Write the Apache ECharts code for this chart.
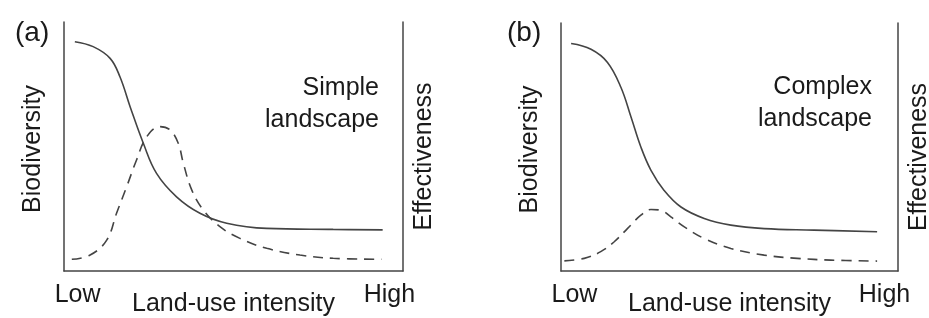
<!DOCTYPE html>
<html>
<head>
<meta charset="utf-8">
<script src="https://cdn.jsdelivr.net/npm/echarts@6/dist/echarts.min.js"></script>
<style>
  html, body { margin: 0; padding: 0; background: #fff; }
  #chart { width: 929px; height: 318px; }
</style>
</head>
<body>
<div id="chart"></div>
<script>
// land-use intensity runs 0 (low) .. 100 (high), both y scales 0..100
const biodivSimple = [
  [3.2, 92.1], [8.6, 90.1], [13.6, 85.4], [16.5, 78.0], [19.5, 66.0], [23.4, 51.3],
  [27.3, 39.2], [33.2, 29.8], [40.1, 23.2], [48.0, 19.2], [59.8, 17.1], [79.4, 16.7], [94.0, 16.5]
]
const effectSimple = [
  [2.3, 4.7], [7.7, 6.4], [12.6, 12.4], [15.5, 23.2], [18.5, 33.9], [21.4, 44.6],
  [24.4, 53.9], [28.3, 58.0], [31.3, 56.6], [33.7, 51.3], [35.2, 43.3], [37.7, 32.5],
  [41.1, 24.5], [46.0, 17.8], [51.9, 13.1], [59.8, 9.1], [69.6, 6.4], [79.4, 5.1], [93.7, 4.7]
]
const biodivComplex = [
  [3.0, 91.7], [8.9, 89.4], [13.8, 84.1], [17.8, 74.0], [20.8, 62.0], [23.7, 50.0],
  [26.7, 40.6], [30.6, 32.5], [35.6, 25.8], [42.5, 21.2], [50.4, 18.5], [60.3, 17.1],
  [75.1, 16.5], [93.8, 15.8]
]
const effectComplex = [
  [1.0, 4.1], [6.9, 5.1], [11.8, 7.8], [15.8, 11.8], [19.7, 17.1], [23.7, 22.5],
  [26.7, 24.8], [29.6, 24.5], [32.6, 21.8], [36.6, 17.8], [42.5, 13.1], [50.4, 9.1],
  [60.3, 6.4], [70.1, 5.1], [80.0, 4.4], [93.8, 4.0]
]
const xEndLabels = ['Low', 'High']
const panelTags = ['(a)', '(b)']
const panelNotes = ['Simple\nlandscape', 'Complex\nlandscape']

const ink = '#444'
const text = '#1a1a1a'
const font = 'Liberation Sans'

const chart = echarts.init(document.getElementById('chart'))

function xAxisFor(i) {
  return {
    type: 'value', gridIndex: i, min: 0, max: 100,
    name: 'Land-use intensity', nameLocation: 'middle', nameGap: 21, nameMoveOverlap: false,
    nameTextStyle: { color: text, fontFamily: font, fontSize: 25 },
    axisLine: { show: true, lineStyle: { color: ink, width: 1.5 } },
    axisTick: { show: false },
    splitLine: { show: false },
    axisLabel: {
      customValues: [4, 96],
      formatter: v => (v < 50 ? xEndLabels[0] : xEndLabels[1]),
      color: text, fontFamily: font, fontSize: 25, margin: 12
    }
  }
}

function yAxisFor(i, side, label) {
  const left = side === 'left'
  return {
    type: 'value', gridIndex: i, min: 0, max: 100, position: side,
    name: label, nameLocation: 'middle', nameRotate: 90, nameGap: left ? 18 : 9,
    nameTextStyle: { color: text, fontFamily: font, fontSize: 25, padding: [0, left ? 5 : 20, 0, 0] },
    axisLine: { show: true, lineStyle: { color: ink, width: 1.5 } },
    axisTick: { show: false },
    axisLabel: { show: false },
    splitLine: { show: false }
  }
}

function curve(data, i, dashed) {
  return {
    type: 'line', xAxisIndex: i, yAxisIndex: i * 2, data: data,
    smooth: 0.4, showSymbol: false, silent: true,
    lineStyle: { color: ink, width: 1.6, type: dashed ? [10, 7] : 'solid' }
  }
}

const option = {
  backgroundColor: '#fff',
  animation: false,
  grid: [
    { left: 64, right: 526, top: 22, bottom: 47, containLabel: false, outerBoundsMode: 'none' },
    { left: 561, right: 31, top: 23, bottom: 47, containLabel: false, outerBoundsMode: 'none' }
  ],
  xAxis: [xAxisFor(0), xAxisFor(1)],
  yAxis: [
    yAxisFor(0, 'left', 'Biodiversity'), yAxisFor(0, 'right', 'Effectiveness'),
    yAxisFor(1, 'left', 'Biodiversity'), yAxisFor(1, 'right', 'Effectiveness')
  ],
  title: [
    { text: panelTags[0], left: 10, top: 14, textStyle: { color: text, fontFamily: font, fontSize: 28, fontWeight: 'normal' } },
    { text: panelTags[1], left: 502, top: 14, textStyle: { color: text, fontFamily: font, fontSize: 28, fontWeight: 'normal' } }
  ],
  graphic: [
    { type: 'text', x: 379, y: 72, style: { text: panelNotes[0], fill: text, font: '25px ' + font, lineHeight: 32, align: 'right' } },
    { type: 'text', x: 872, y: 71, style: { text: panelNotes[1], fill: text, font: '25px ' + font, lineHeight: 32, align: 'right' } }
  ],
  series: [
    curve(biodivSimple, 0, false),
    curve(effectSimple, 0, true),
    curve(biodivComplex, 1, false),
    curve(effectComplex, 1, true)
  ]
}

chart.setOption(option)
</script>
</body>
</html>
